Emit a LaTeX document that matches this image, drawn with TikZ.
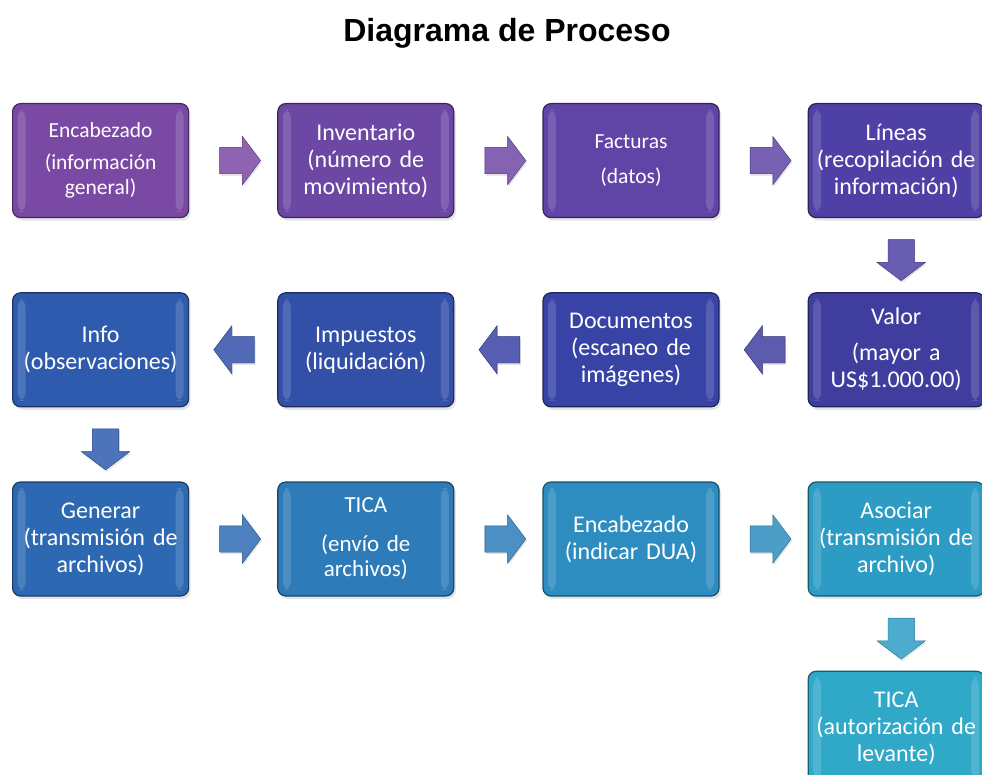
\documentclass[tikz,border=0pt]{standalone}
\usepackage{fontspec}
\setmainfont{Carlito}
\newfontfamily\titlefont{Liberation Sans}
\usetikzlibrary{shapes.arrows,positioning,calc,shadows}
\definecolor{procA}{HTML}{7A49A3}
\definecolor{procB}{HTML}{6D47A4}
\definecolor{procC}{HTML}{6044A6}
\definecolor{procD}{HTML}{4E40A4}
\definecolor{procE}{HTML}{3F3E9F}
\definecolor{procF}{HTML}{3843A6}
\definecolor{procG}{HTML}{3350A9}
\definecolor{procH}{HTML}{2E5BAE}
\definecolor{procI}{HTML}{2D69B2}
\definecolor{procJ}{HTML}{2D7BB8}
\definecolor{procK}{HTML}{2D8DC0}
\definecolor{procL}{HTML}{2D9CC5}
\definecolor{procM}{HTML}{30A8C8}
\tikzset{
  procbox/.style={rectangle, rounded corners=8pt, draw=#1!55!black, line width=1.2pt, fill=#1,
    text=white, minimum width=176pt, minimum height=114pt, text width=166pt, align=center,
    font=\fontsize{24}{27}\selectfont,
    drop shadow={opacity=0.2, shadow xshift=2pt, shadow yshift=-3pt},
    path picture={\fill[white, opacity=0.15]
      ($(path picture bounding box.south west)+(5pt,6pt)$) rectangle
      ($(path picture bounding box.north west)+(13pt,-6pt)$);
      \fill[white, opacity=0.15]
      ($(path picture bounding box.south east)+(-13pt,6pt)$) rectangle
      ($(path picture bounding box.north east)+(-5pt,-6pt)$);}},
  smalltext/.style={font=\fontsize{21.5}{25}\selectfont},
  flowarrow/.style={single arrow, draw=#1!75!black, fill=#1!85!white, minimum width=48pt,
    minimum height=41pt, single arrow head extend=11pt, single arrow tip angle=106,
    inner xsep=0pt, inner ysep=13pt,
    drop shadow={opacity=0.2, shadow xshift=1pt, shadow yshift=-2pt}}
}
\begin{document}
\begin{tikzpicture}[x=1pt, y=-1pt, node distance=74pt and 88pt]
\useasboundingbox (0,0) rectangle (982,775);
\clip (0,0) rectangle (982,775);
\fill[white] (0,0) rectangle (982,775);

\node[anchor=base, font=\titlefont\bfseries\fontsize{32}{38}\selectfont] (title) at (507,42) {Diagrama de Proceso};

% fila 1
\node[procbox=procA, smalltext, anchor=north west] (enc) at (12,103) {Encabezado\\[7pt](información\\general)};
\node[procbox=procB, right=of enc] (inv) {Inventario\\(número de\\movimiento)};
\node[procbox=procC, smalltext, right=of inv] (fact) {Facturas\\[10pt](datos)};
\node[procbox=procD, right=of fact] (lin) {Líneas\\(recopilación de\\información)};
% fila 2
\node[procbox=procE, below=of lin] (val) {Valor\\[9pt](mayor a\\US\$1.000.00)};
\node[procbox=procF, left=of val] (doc) {Documentos\\(escaneo de\\imágenes)};
\node[procbox=procG, left=of doc] (imp) {Impuestos\\(liquidación)};
\node[procbox=procH, left=of imp] (info) {Info\\(observaciones)};
% fila 3
\node[procbox=procI, below=of info] (gen) {Generar\\(transmisión de\\archivos)};
\node[procbox=procJ, font=\fontsize{23}{25}\selectfont, right=of gen] (tica) {TICA\\[14pt](envío de\\archivos)};
\node[procbox=procK, right=of tica] (encdua) {Encabezado\\(indicar DUA)};
\node[procbox=procL, right=of encdua] (asoc) {Asociar\\(transmisión de\\archivo)};
% fila 4
\node[procbox=procM, below=of asoc] (ticalev) {TICA\\(autorización de\\levante)};

% flechas
\node[flowarrow=procA] (a1) at ($(enc.east)!0.5!(inv.west)+(2,0)$) {};
\node[flowarrow=procB] (a2) at ($(inv.east)!0.5!(fact.west)+(2,0)$) {};
\node[flowarrow=procC] (a3) at ($(fact.east)!0.5!(lin.west)+(2,0)$) {};
\node[flowarrow=procD, rotate=-90] (a4) at ($(lin.south)!0.5!(val.north)+(5,0)$) {};
\node[flowarrow=procE, rotate=180] (a5) at ($(val.west)!0.5!(doc.east)+(6,0)$) {};
\node[flowarrow=procF, rotate=180] (a6) at ($(doc.west)!0.5!(imp.east)+(6,0)$) {};
\node[flowarrow=procG, rotate=180] (a7) at ($(imp.west)!0.5!(info.east)+(6,0)$) {};
\node[flowarrow=procH, rotate=-90] (a8) at ($(info.south)!0.5!(gen.north)+(5,0)$) {};
\node[flowarrow=procI] (a9) at ($(gen.east)!0.5!(tica.west)+(2,0)$) {};
\node[flowarrow=procJ] (a10) at ($(tica.east)!0.5!(encdua.west)+(2,0)$) {};
\node[flowarrow=procK] (a11) at ($(encdua.east)!0.5!(asoc.west)+(2,0)$) {};
\node[flowarrow=procL, rotate=-90] (a12) at ($(asoc.south)!0.5!(ticalev.north)+(5,0)$) {};

\end{tikzpicture}
\end{document}
